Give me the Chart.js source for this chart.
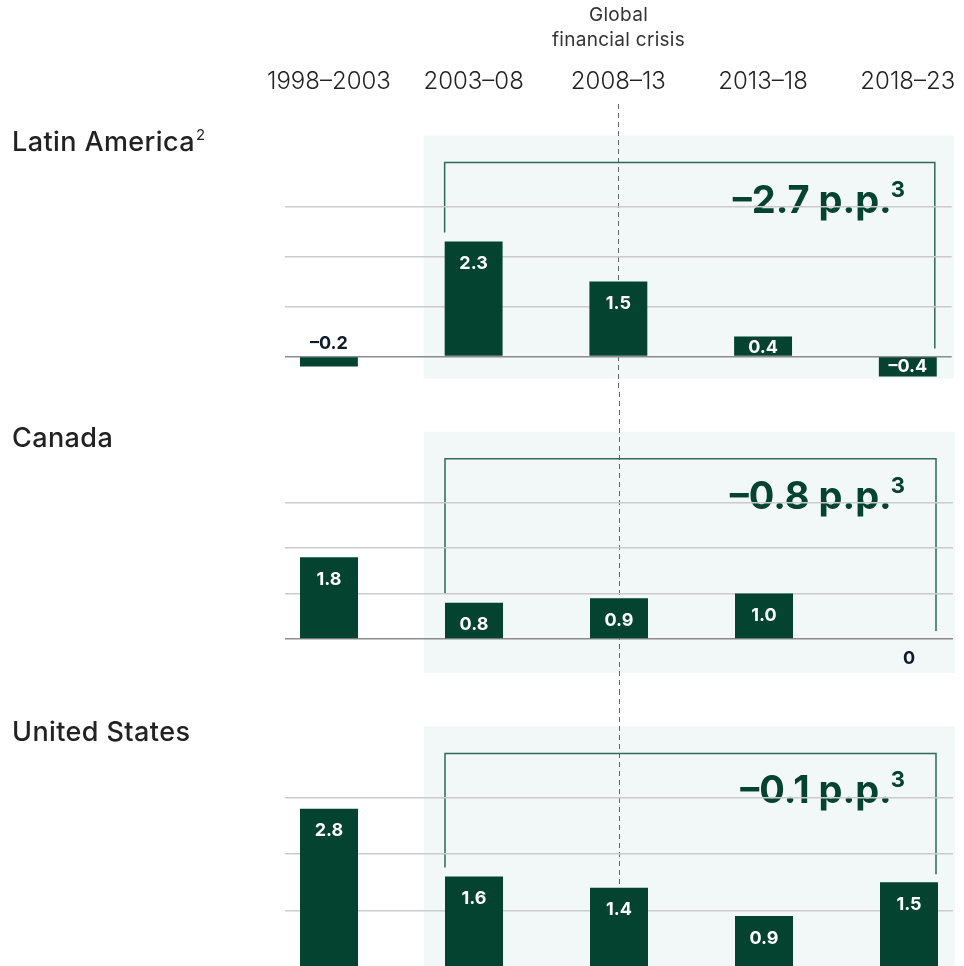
<!DOCTYPE html>
<html>
<head>
<meta charset="utf-8">
<script src="https://cdn.jsdelivr.net/npm/chart.js@4.4.1/dist/chart.umd.min.js"></script>
<style>
  html, body { margin: 0; padding: 0; width: 964px; height: 966px; overflow: hidden; background: #fff; }
  .panel { position: absolute; left: 0; width: 964px; }
  canvas { display: block; }
</style>
</head>
<body>
<div class="panel" style="top:0"><canvas id="c1" width="964" height="392"></canvas></div>
<div class="panel" style="top:392px"><canvas id="c2" width="964" height="298"></canvas></div>
<div class="panel" style="top:690px"><canvas id="c3" width="964" height="280"></canvas></div>
<script>
// data
const periods = ['1998–2003', '2003–08', '2008–13', '2013–18', '2018–23'];
const regions = ['Latin America', 'Canada', 'United States'];
const regionNotes = ['2', '', ''];
const latinAmerica = [-0.2, 2.3, 1.5, 0.4, -0.4];
const canada = [1.8, 0.8, 0.9, 1.0, 0];
const unitedStates = [2.8, 1.6, 1.4, 0.9, 1.5];
const changes = ['–2.7', '–0.8', '–0.1'];
const gridValues = [0, 1, 2, 3];
const crisisNote = ['Global', 'financial crisis'];

const GREEN = '#03432f';
const FONT = 'Inter, "Noto Sans", sans-serif';

function fmt(v) {
  if (v === 0) return '0';
  return v.toFixed(1).replace('-', '–');
}

const decor = {
  id: 'decor',
  beforeDraw(chart, args, o) {
    const { ctx, chartArea: ca, scales: { x, y } } = chart;
    const y3 = y.getPixelForValue(3);
    const y0 = y.getPixelForValue(0);
    const vals = o.values;
    ctx.save();

    // shaded period box
    const bx = x.getPixelForValue(1) - 50;
    const top = y3 - 71;
    ctx.fillStyle = '#f2f7f7';
    ctx.fillRect(bx, top, ca.right + 2 - bx, y0 + o.boxBelow - top);

    // crisis marker
    const cx = Math.round(x.getPixelForValue(2)) + 0.5;
    ctx.strokeStyle = '#666';
    ctx.lineWidth = 1;
    ctx.setLineDash([5, 4]);
    ctx.beginPath();
    ctx.moveTo(cx, o.header ? 104 : 0);
    ctx.lineTo(cx, chart.height);
    ctx.stroke();
    ctx.setLineDash([]);

    if (o.header) {
      ctx.fillStyle = '#333';
      ctx.font = '400 19px ' + FONT;
      ctx.letterSpacing = '0.3px';
      ctx.textAlign = 'center';
      ctx.textBaseline = 'middle';
      ctx.fillText(crisisNote[0], cx, 15);
      ctx.fillText(crisisNote[1], cx, 40);
      ctx.letterSpacing = '0px';
    }

    // bracket
    const lx = x.getPixelForValue(1) - 29;
    const rx = x.getPixelForValue(4) + 27;
    const by = y3 - 44;
    ctx.strokeStyle = '#2e6a55';
    ctx.lineWidth = 1.5;
    ctx.beginPath();
    ctx.moveTo(lx, y.getPixelForValue(Math.max(vals[1], 0)) - 9);
    ctx.lineTo(lx, by);
    ctx.lineTo(rx, by);
    ctx.lineTo(rx, y.getPixelForValue(Math.max(vals[4], 0)) - 8);
    ctx.stroke();

    // change annotation
    ctx.fillStyle = GREEN;
    ctx.textBaseline = 'alphabetic';
    ctx.textAlign = 'right';
    ctx.font = '700 22px ' + FONT;
    const supW = ctx.measureText('3').width;
    const tx = 905;
    ctx.fillText('3', tx, y3 - 10);
    ctx.font = '700 38px ' + FONT;
    ctx.fillText(o.change + ' p.p.', tx - supW + 1, y3 + 6);

    // region title
    ctx.fillStyle = '#222';
    ctx.textAlign = 'left';
    ctx.font = '500 27px ' + FONT;
    ctx.letterSpacing = '0.4px';
    ctx.fillText(o.title, 12, y3 - 56);
    if (o.note) {
      const w = ctx.measureText(o.title).width;
      ctx.font = '400 15px ' + FONT;
      ctx.fillText(o.note, 12 + w + 1, y3 - 67);
    }
    ctx.letterSpacing = '0px';
    ctx.restore();
  },
  afterDatasetsDraw(chart, args, o) {
    const { ctx, scales: { y } } = chart;
    const y0 = y.getPixelForValue(0);
    const meta = chart.getDatasetMeta(0);
    ctx.save();
    ctx.font = '700 18px ' + FONT;
    ctx.textAlign = 'center';
    ctx.textBaseline = 'middle';
    meta.data.forEach((el, i) => {
      const v = o.values[i];
      let ly, col = '#fff';
      if (v >= 0.3) {
        ly = Math.min(el.y + 22, y0 - 9);
      } else if (v <= -0.3) {
        ly = (el.y + el.base) / 2;
      } else if (v < 0) {
        ly = y0 - 13; col = '#0d1b2a';
      } else {
        ly = y0 + 20; col = '#0d1b2a';
      }
      ctx.fillStyle = col;
      ctx.fillText(fmt(v), el.x, ly);
    });
    ctx.restore();
  }
};

const panels = [
  { id: 'c1', values: latinAmerica, yMin: -0.71, yMax: 4.89, boxBelow: 22, header: true, padBottom: 0 },
  { id: 'c2', values: canada, yMin: -1.123, yMax: 5.44, boxBelow: 34, header: false, padBottom: 0 },
  { id: 'c3', values: unitedStates, yMin: 0, yMax: 4.9, boxBelow: 60, header: false, padBottom: 3 }
];

panels.forEach((p, k) => {
  new Chart(document.getElementById(p.id), {
    type: 'bar',
    data: {
      datasets: [{
        data: p.values.map((v, i) => ({ x: i, y: v })),
        backgroundColor: GREEN,
        borderWidth: 0,
        barPercentage: 0.4,
        categoryPercentage: 1
      }]
    },
    plugins: [decor],
    options: {
      responsive: false,
      animation: false,
      layout: { padding: { left: 285, right: 11, top: 0, bottom: p.padBottom } },
      plugins: {
        legend: { display: false },
        tooltip: { enabled: false },
        decor: {
          values: p.values, title: regions[k], note: regionNotes[k],
          change: changes[k], boxBelow: p.boxBelow, header: p.header
        }
      },
      scales: {
        x: {
          type: 'linear',
          position: 'top',
          display: p.header,
          min: -44 / 145,
          max: 4 + 44 / 145,
          offset: false,
          grid: { display: false },
          border: { display: false },
          afterBuildTicks: s => { s.ticks = periods.map((_, i) => ({ value: i })); },
          afterFit: s => { s.height = p.header ? 112 : 0; },
          ticks: {
            autoSkip: false,
            maxRotation: 0,
            padding: 8,
            color: '#222',
            font: { family: FONT, size: 24, weight: '300' },
            callback: v => periods[v]
          }
        },
        y: {
          min: p.yMin,
          max: p.yMax,
          afterBuildTicks: s => { s.ticks = gridValues.map(v => ({ value: v })); },
          afterFit: s => { s.width = 0; },
          border: { display: false },
          ticks: { display: false },
          grid: {
            drawTicks: false,
            lineWidth: 1.5,
            color: c => c.tick && c.tick.value === 0 ? '#8c8c8c' : '#cbcbcb'
          }
        }
      }
    }
  });
});
</script>
</body>
</html>
